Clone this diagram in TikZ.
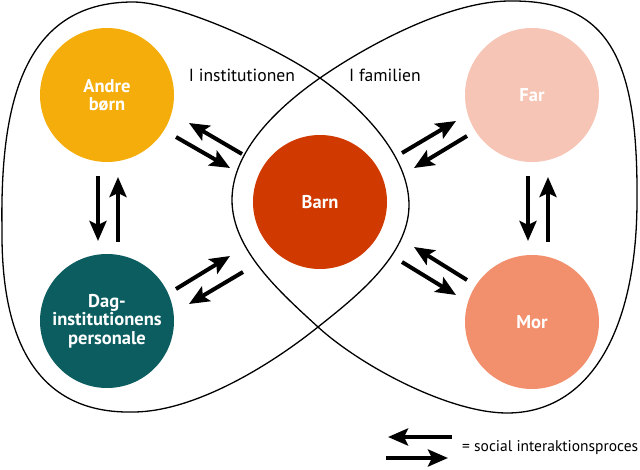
\documentclass[tikz,border=0pt]{standalone}
\usepackage{fontspec}
\setmainfont{PT Sans}
\usetikzlibrary{arrows.meta}
\definecolor{cAndre}{HTML}{F4AD0A}
\definecolor{cFar}{HTML}{F6C5B5}
\definecolor{cBarn}{HTML}{D03900}
\definecolor{cDag}{HTML}{0B5D60}
\definecolor{cMor}{HTML}{F2906E}
\begin{document}
\begin{tikzpicture}[x=1pt,y=-1pt,
  person/.style={circle, minimum size=134pt, inner sep=0pt, text=white,
    font=\bfseries\fontsize{18.5}{18.5}\selectfont, align=center},
  loopline/.style={line width=1.3pt},
  arr/.style={line width=4pt, -{Stealth[length=20pt,width=17pt,inset=4pt]}},
  lbl/.style={font=\fontsize{17.6}{20}\selectfont, inner sep=0pt}]
\useasboundingbox (0,0) rectangle (640,470);

% left loop (institution)
\draw[loopline] (133,2) .. controls (175,2) and (271,44) .. (320,78)
  .. controls (361,107) and (409,155) .. (409,205)
  .. controls (409,255) and (357,296) .. (318,327)
  .. controls (263,371) and (190,412) .. (133,412)
  .. controls (40,414) and (1,345) .. (2,230)
  .. controls (0,110) and (20,2) .. cycle;
% right loop (family)
\draw[loopline] (320,78) .. controls (369,44) and (450,1) .. (510,1)
  .. controls (610,0) and (638,60) .. (637,200)
  .. controls (637,330) and (590,413) .. (507,413)
  .. controls (450,413) and (362,367) .. (318,327)
  .. controls (281,293) and (232,250) .. (232,200)
  .. controls (232,150) and (279,106.5) .. cycle;

% persons
\node[person, fill=cAndre] (andre) at (107,95) {Andre\\børn};
\node[person, fill=cFar] (far) at (532,95) {Far};
\node[person, fill=cBarn] (barn) at (320,202) {Barn};
\node[person, fill=cDag] (dag) at (107,321) {Dag-\\institutionens\\personale};
\node[person, fill=cMor] (mor) at (532,322) {Mor};

% labels
\node[lbl] (inst) at (242,75) {I institutionen};
\node[lbl] (fam) at (385,75) {I familien};

% arrow end points
\coordinate (ab1) at (176,137); \coordinate (ab2) at (230,168);
\coordinate (ba1) at (242,154); \coordinate (ba2) at (189,123);
\coordinate (ad1) at (98,176);  \coordinate (ad2) at (98,241);
\coordinate (da1) at (118,242); \coordinate (da2) at (118,177);
\coordinate (db1) at (176,289); \coordinate (db2) at (230,256);
\coordinate (bd1) at (243,272); \coordinate (bd2) at (189,304);
\coordinate (bf1) at (402,153); \coordinate (bf2) at (456,121);
\coordinate (fb1) at (467,136); \coordinate (fb2) at (414,168);
\coordinate (fm1) at (528,176); \coordinate (fm2) at (528,241);
\coordinate (mf1) at (548,242); \coordinate (mf2) at (548,177);
\coordinate (bm1) at (402,262); \coordinate (bm2) at (456,295);
\coordinate (mb1) at (467,280); \coordinate (mb2) at (414,247);

\draw[arr] (ab1) -- (ab2);
\draw[arr] (ba1) -- (ba2);
\draw[arr] (ad1) -- (ad2);
\draw[arr] (da1) -- (da2);
\draw[arr] (db1) -- (db2);
\draw[arr] (bd1) -- (bd2);
\draw[arr] (bf1) -- (bf2);
\draw[arr] (fb1) -- (fb2);
\draw[arr] (fm1) -- (fm2);
\draw[arr] (mf1) -- (mf2);
\draw[arr] (bm1) -- (bm2);
\draw[arr] (mb1) -- (mb2);

% legend
\coordinate (lg1) at (452,437); \coordinate (lg2) at (388,437);
\coordinate (lg3) at (386,458); \coordinate (lg4) at (448,458);
\draw[arr] (lg1) -- (lg2);
\draw[arr] (lg3) -- (lg4);
\node[lbl, anchor=west, font=\fontsize{15.5}{18}\selectfont] (legend) at (462,448) {= social interaktionsproces};
\end{tikzpicture}
\end{document}
